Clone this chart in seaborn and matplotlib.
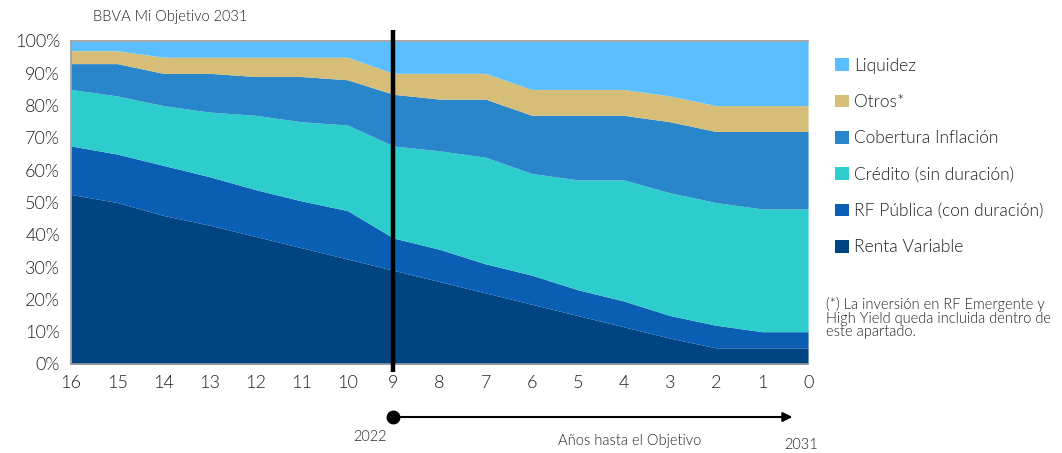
import numpy as np
import matplotlib
matplotlib.use("Agg")
import matplotlib.pyplot as plt
import matplotlib.transforms as mtransforms
from matplotlib.patches import Patch
import seaborn as sns

# Years to target (x axis, reversed)
years = [16, 15, 14, 13, 12, 11, 10, 9, 8, 7, 6, 5, 4, 3, 2, 1, 0]

# Allocation per asset class (%)
renta_variable = [52.5, 50, 46, 43, 39.5, 36, 32.5, 29, 25.5, 22, 18.5, 15, 11.5, 8, 5, 5, 5]
rf_publica = [15, 15, 15.5, 15, 14.5, 14.5, 15, 10, 10, 9, 9, 8, 8, 7, 7, 5, 5]
credito = [17.5, 18, 18.5, 20, 23, 24.5, 26.5, 28.5, 30.5, 33, 31.5, 34, 37.5, 38, 38, 38, 38]
cobertura = [8, 10, 10, 12, 12, 14, 14, 16, 16, 18, 18, 20, 20, 22, 22, 24, 24]
otros = [4, 4, 5, 5, 6, 6, 7, 6.5, 8, 8, 8, 8, 8, 8, 8, 8, 8]
liquidez = [3, 3, 5, 5, 5, 5, 5, 10, 10, 10, 15, 15, 15, 17, 20, 20, 20]

labels = ["Renta Variable", "RF Pública (con duración)", "Crédito (sin duración)",
          "Cobertura Inflación", "Otros*", "Liquidez"]
colors = ["#004481", "#0A5EB4", "#2DCCCD", "#2A86CA", "#D6BE78", "#5BBEFF"]

sns.set_style("white")
plt.rcParams["font.family"] = ["Lato", "DejaVu Sans"]
plt.rcParams["font.weight"] = 300
txt = "#222222"

fig = plt.figure(figsize=(10.62, 4.53), dpi=100)
ax = fig.add_axes([0.0669, 0.1965, 0.694, 0.713])

ax.stackplot(years, renta_variable, rf_publica, credito, cobertura, otros, liquidez,
             colors=colors, labels=labels, linewidth=0)

ax.set_xlim(16, 0)
ax.set_ylim(0, 100)

# axes style
for side in ["left", "bottom", "top"]:
    ax.spines[side].set_color("#9a9a9a")
    ax.spines[side].set_linewidth(1.2)
ax.spines["right"].set_visible(False)

ax.set_yticks(range(0, 101, 10))
ax.set_yticklabels([f"{v}%" for v in range(0, 101, 10)], fontsize=13, color=txt)
ax.set_xticks(years)
ax.set_xticklabels([str(y) for y in years], fontsize=13, color=txt)
ax.tick_params(axis="x", length=0, pad=8)
ax.set_xticks([16, 13, 10, 7, 4, 1], minor=True)
ax.tick_params(axis="x", which="minor", length=5, color="#9a9a9a", width=1.2, direction="out")
ax.tick_params(axis="y", length=5, color="#9a9a9a", width=1.2, direction="out", pad=3)

# vertical marker at the current year
trans = mtransforms.blended_transform_factory(ax.transData, ax.transAxes)
ax.plot([9, 9], [-0.025, 1.035], transform=trans, color="black", lw=3.2,
        clip_on=False, solid_capstyle="butt", zorder=5)

# title
fig.text(0.088, 0.963, "BBVA Mi Objetivo 2031", fontsize=10.5, color=txt, va="center")

# timeline arrow under the axis
fig_y = 1 - 417 / 453
ax_trans = mtransforms.blended_transform_factory(ax.transData, fig.transFigure)
ax.annotate("", xy=(0.28, fig_y), xytext=(9, fig_y), xycoords=ax_trans, textcoords=ax_trans,
            arrowprops=dict(arrowstyle="-|>", color="black", lw=1.5, mutation_scale=14),
            annotation_clip=False)
ax.plot([9], [fig_y], marker="o", color="black", markersize=9, transform=ax_trans, clip_on=False)
fig.text(370 / 1062, 1 - 437 / 453, "2022", fontsize=10.5, color=txt, ha="center", va="center")
fig.text(630 / 1062, 1 - 441 / 453, "Años hasta el Objetivo", fontsize=10.5, color=txt,
         ha="center", va="center")
fig.text(801 / 1062, 1 - 445 / 453, "2031", fontsize=10.5, color=txt, ha="center", va="center")

# legend
handles = [Patch(facecolor=c, edgecolor="none") for c in colors][::-1]
fig.legend(handles, labels[::-1], loc="upper left", bbox_to_anchor=(0.772, 0.907),
           frameon=False, fontsize=12.5, handlelength=0.75, handleheight=0.75,
           handletextpad=0.3, labelspacing=1.17, labelcolor=txt)

fig.text(826 / 1062, 1 - 297 / 453,
         "(*) La inversión en RF Emergente y\nHigh Yield queda incluida dentro de\neste apartado.",
         fontsize=10.5, color=txt, va="top", linespacing=0.95)

fig.savefig("out.png", dpi=100)
